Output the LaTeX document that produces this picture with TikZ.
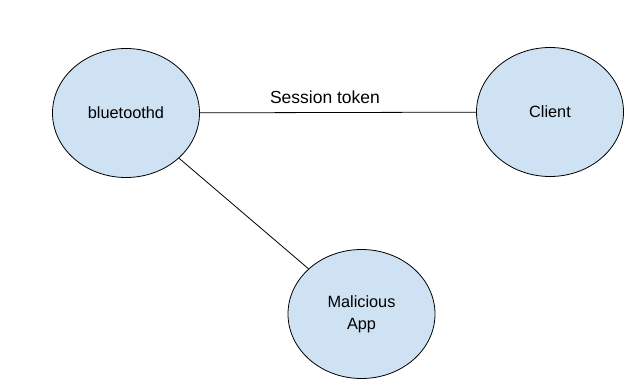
\documentclass[tikz,border=0pt]{standalone}
\usepackage{fontspec}
\setmainfont{Liberation Sans}
\usetikzlibrary{shapes.geometric}
\definecolor{nodefill}{HTML}{CFE2F3}
\begin{document}
\begin{tikzpicture}[x=1pt,y=-1pt,
  blob/.style={ellipse,draw=black,line width=0.8pt,fill=nodefill,inner sep=0pt,
    minimum width=147pt,minimum height=129pt,font=\fontsize{16.3}{22}\selectfont,align=center},
  link/.style={draw=black,line width=0.8pt},
  lbl/.style={font=\fontsize{17.5}{21}\selectfont,inner sep=0pt}]
\useasboundingbox (0,0) rectangle (624,380);
\node[blob] (bt) at (126,113) {bluetoothd};
\node[blob] (cl) at (550,112) {Client};
\node[blob] (ma) at (361.5,314) {Malicious\\App};
\draw[link] (bt) -- (cl);
\draw[link] (bt) -- (ma);
\node[lbl,anchor=base] (st) at (325,103) {Session token};
\end{tikzpicture}
\end{document}
